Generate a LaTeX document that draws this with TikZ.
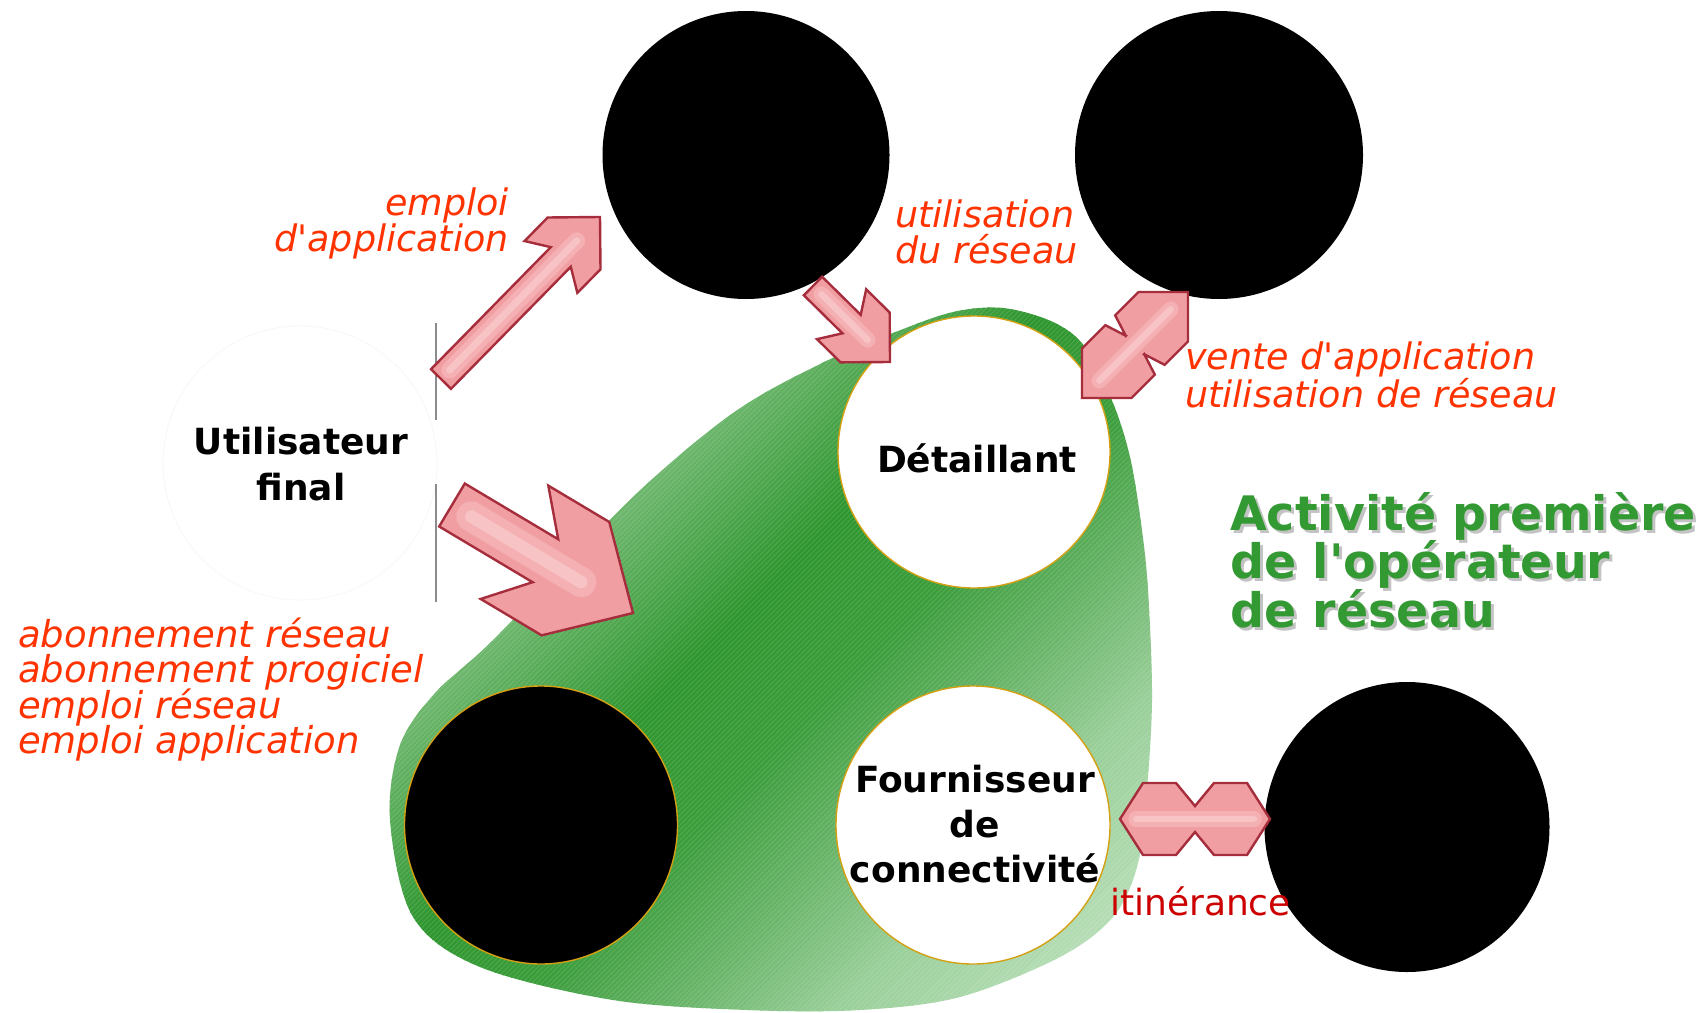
\documentclass[tikz,border=0pt]{standalone}
\usepackage{fontspec}
\setmainfont{DejaVu Sans}
\usetikzlibrary{calc,shapes.geometric}
\definecolor{labred}{RGB}{255,51,0}
\definecolor{itired}{RGB}{204,0,0}
\definecolor{titlegreen}{RGB}{51,153,51}
\definecolor{shadowgray}{RGB}{195,195,195}
\definecolor{ringgold}{RGB}{212,160,20}
\definecolor{arredge}{RGB}{165,45,60}
\definecolor{arrfill}{RGB}{241,158,163}
\definecolor{arrlight}{RGB}{255,240,240}
\definecolor{g0}{RGB}{110,183,110}
\definecolor{g1}{RGB}{46,150,46}
\definecolor{g2}{RGB}{58,157,58}
\definecolor{g3}{RGB}{104,180,104}
\definecolor{g4}{RGB}{152,206,152}
\definecolor{g5}{RGB}{200,230,200}
\newcommand\linesL[1]{\vtop{\lineskiplimit=-1000pt\halign{##\hfil\cr#1\crcr}}}
\newcommand\linesR[1]{\vtop{\lineskiplimit=-1000pt\halign{\hfil##\cr#1\crcr}}}
\newcommand\linesC[1]{\vtop{\lineskiplimit=-1000pt\halign{\hfil##\hfil\cr#1\crcr}}}
% #1 tail, #2 tip, #3 shaft half width, #4 head half width, #5 corner back, #6 barb back, #7 inner back
\newcommand\pinkarrow[7]{%
  \path ($(#2)!#5!(#1)$) coordinate (pa-c)
        ($(#2)!#6!(#1)$) coordinate (pa-b)
        ($(#2)!#7!(#1)$) coordinate (pa-i);
  \path[parrow] (#2)
     -- ($(pa-c)!#4!90:(#2)$) -- ($(pa-b)!#4!90:(#2)$) -- ($(pa-i)!#3!90:(#2)$)
     -- ($(#1)!#3!90:(#2)$) -- ($(#1)!#3!-90:(#2)$)
     -- ($(pa-i)!#3!-90:(#2)$) -- ($(pa-b)!#4!-90:(#2)$) -- ($(pa-c)!#4!-90:(#2)$) -- cycle;
  \draw[arrlight, opacity=0.22, line width=1.2*#3, line cap=round] ($(#1)!0.9*#3!(#2)$) -- ($(#2)!0.9*#5!(#1)$);
  \draw[arrlight, opacity=0.3, line width=0.5*#3, line cap=round] ($(#1)!0.9*#3!(#2)$) -- ($(#2)!0.9*#5!(#1)$);
}
\newcommand\pinkdarrow[7]{%
  \path ($(#1)!#5!(#2)$) coordinate (da-c) ($(#1)!#6!(#2)$) coordinate (da-b) ($(#1)!#7!(#2)$) coordinate (da-i)
        ($(#2)!#5!(#1)$) coordinate (db-c) ($(#2)!#6!(#1)$) coordinate (db-b) ($(#2)!#7!(#1)$) coordinate (db-i);
  \path[parrow] (#1)
     -- ($(da-c)!#4!90:(#2)$) -- ($(da-b)!#4!90:(#2)$) -- ($(da-i)!#3!90:(#2)$)
     -- ($(db-i)!#3!90:(#2)$) -- ($(db-b)!#4!90:(#2)$) -- ($(db-c)!#4!90:(#2)$)
     -- (#2)
     -- ($(db-c)!#4!-90:(#2)$) -- ($(db-b)!#4!-90:(#2)$) -- ($(db-i)!#3!-90:(#2)$)
     -- ($(da-i)!#3!-90:(#2)$) -- ($(da-b)!#4!-90:(#2)$) -- ($(da-c)!#4!-90:(#2)$) -- cycle;
  \draw[arrlight, opacity=0.22, line width=1.2*#3, line cap=round] ($(#1)!0.7*#5!(#2)$) -- ($(#2)!0.7*#5!(#1)$);
  \draw[arrlight, opacity=0.3, line width=0.5*#3, line cap=round] ($(#1)!0.7*#5!(#2)$) -- ($(#2)!0.7*#5!(#1)$);
}
\tikzset{
  parrow/.style={draw=arredge, line width=2.4pt, line join=miter, fill=arrfill},
  lab/.style={inner sep=0pt, text=labred, font=\fontsize{36.5}{36}\selectfont\itshape},
  blab/.style={inner sep=0pt, text=black, font=\fontsize{36}{46}\selectfont\bfseries},
  ttl/.style={inner sep=0pt, font=\fontsize{47.5}{48.5}\selectfont\bfseries},
  blackdisc/.style={ellipse, fill=black, inner sep=0pt},
  whitedisc/.style={ellipse, fill=white, draw=ringgold, line width=1.4pt, inner sep=0pt},
}
\begin{document}
\begin{tikzpicture}[x=1pt,y=-1pt]
\useasboundingbox[fill=white] (0,0) rectangle (1707,1012);

% green blob
\begin{scope}
  \clip plot[smooth cycle, tension=0.55] coordinates {
    (820,364) (893,333) (953,312) (1003,308) (1053,322) (1085,347) (1113,403)
    (1130,457) (1141,523) (1148,590) (1152,700) (1146,800) (1137,867) (1113,917)
    (1060,957) (960,997) (860,1010) (747,1010) (613,1000) (480,967) (413,917)
    (390,820) (400,745) (435,693) (493,640) (633,497) (733,413)};
  \foreach \sa/\sb/\ca/\cb in {1000/1130/g0/g0, 1130/1350/g0/g1, 1350/1520/g1/g2, 1520/1680/g2/g3, 1680/1840/g3/g4, 1840/2150/g4/g5}{
    \foreach \k in {0,...,15}{
      \pgfmathsetmacro\sA{\sa+\k*(\sb-\sa)/16}
      \pgfmathsetmacro\sB{\sA+(\sb-\sa)/16+1.5}
      \pgfmathtruncatemacro\pc{(\k+0.5)*100/16}
      \fill[fill={\cb!\pc!\ca}] (300,{\sA-300}) -- (1300,{\sA-1300}) -- (1300,{\sB-1300}) -- (300,{\sB-300}) -- cycle;
    }
  }
  \foreach \s in {1100,1105,...,2150}{
    \draw[white, opacity=0.13, line width=0.8pt] (300,{\s-300}) -- (1300,{\s-1300});
  }
\end{scope}

% discs
\node[blackdisc, minimum width=287pt, minimum height=288pt] (apps) at (746,155) {};
\node[blackdisc, minimum width=288pt, minimum height=288pt] (net) at (1219,155) {};
\node[whitedisc, minimum width=272pt, minimum height=272pt] (det) at (974,452) {};
\node[whitedisc, minimum width=274pt, minimum height=278pt] (fourn) at (973,825) {};
\node[blackdisc, draw=ringgold, line width=1.4pt, minimum width=273pt, minimum height=278pt] (bl) at (541,825) {};
\node[blackdisc, minimum width=285pt, minimum height=290pt] (br) at (1407,827) {};
\node[ellipse, draw=black!3, line width=0.8pt, minimum width=274pt, minimum height=274pt, inner sep=0pt] (user) at (300,463) {};

% cut edge lines
\draw[black!45, line width=1.5pt] (436,323) -- (436,420) (436,484) -- (436,602);

% arrows
\coordinate (a1t) at (441,379); \coordinate (a1h) at (600,217);
\coordinate (a2t) at (813,286); \coordinate (a2h) at (890,362);
\coordinate (a3t) at (452,505); \coordinate (a3h) at (633,613);
\coordinate (a4a) at (1082,398); \coordinate (a4b) at (1188,292);
\coordinate (a5a) at (1120,819); \coordinate (a5b) at (1270,819);
\pinkarrow{a1t}{a1h}{14pt}{37pt}{37pt}{70pt}{56pt}
\pinkarrow{a2t}{a2h}{13pt}{35pt}{35pt}{68pt}{54pt}
\pinkarrow{a3t}{a3h}{25pt}{66pt}{67pt}{138pt}{102pt}
\pinkdarrow{a4a}{a4b}{13pt}{35pt}{35pt}{68pt}{75pt}
\pinkdarrow{a5a}{a5b}{13pt}{36pt}{23pt}{56pt}{75pt}

% labels
\node[lab, anchor=base east] (l1) at (509,215) {\linesR{emploi\cr d\textquotesingle application}};
\node[lab, anchor=base west] (l2) at (895,227) {\linesL{utilisation\cr du réseau}};
\node[lab, font=\fontsize{36.5}{38}\selectfont\itshape, anchor=base west] (l3) at (1185,369) {\linesL{vente d\textquotesingle application\cr utilisation de réseau}};
\node[lab, font=\fontsize{37}{35.5}\selectfont\itshape, anchor=base west] (l4) at (18,647) {\linesL{abonnement réseau\cr abonnement progiciel\cr emploi réseau\cr emploi application}};
\node[inner sep=0pt, text=itired, font=\fontsize{36}{36}\selectfont, anchor=base west] (l5) at (1110,915) {itinérance};

\node[blab, anchor=base] (tuser) at (301,454) {\linesC{Utilisateur\cr final}};
\node[blab, anchor=base] (tdet) at (977,472) {Détaillant};
\node[blab, font=\fontsize{36}{45}\selectfont\bfseries, anchor=base] (tfourn) at (975,792) {\linesC{Fournisseur\cr de\cr connectivité}};

\node[ttl, text=shadowgray, anchor=base west] (tshadow) at (1233,533) {\linesL{Activité première\cr de l\textquotesingle opérateur\cr de réseau}};
\node[ttl, text=titlegreen, anchor=base west] (title) at (1230,530) {\linesL{Activité première\cr de l\textquotesingle opérateur\cr de réseau}};
\end{tikzpicture}
\end{document}
